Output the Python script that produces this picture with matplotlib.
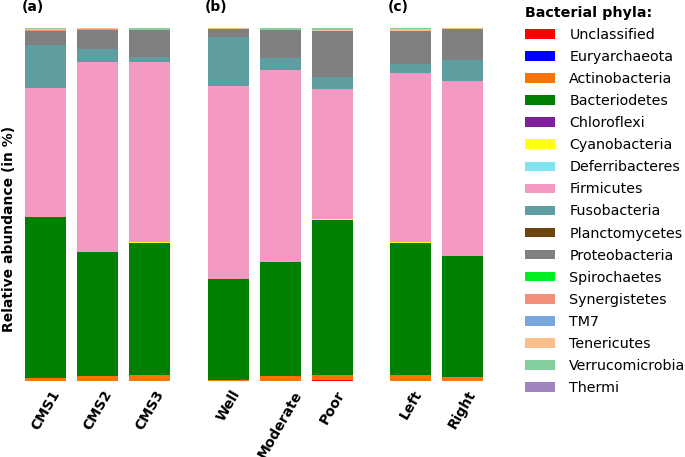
import matplotlib
matplotlib.use('Agg')
import numpy as np
import matplotlib.pyplot as plt
from matplotlib.patches import Patch

# samples, grouped by panel
panel_a = ['CMS1', 'CMS2', 'CMS3']
panel_b = ['Well', 'Moderate', 'Poor']
panel_c = ['Left', 'Right']
samples = panel_a + panel_b + panel_c

phyla = ['Unclassified', 'Euryarchaeota', 'Actinobacteria', 'Bacteriodetes', 'Chloroflexi',
         'Cyanobacteria', 'Deferribacteres', 'Firmicutes', 'Fusobacteria', 'Planctomycetes',
         'Proteobacteria', 'Spirochaetes', 'Synergistetes', 'TM7', 'Tenericutes',
         'Verrucomicrobia', 'Thermi']
colors = ['#ff0000', '#0000ff', '#f97306', '#008000', '#7e1e9c',
          '#ffff14', '#80e5ef', '#f49ac2', '#5f9ea0', '#6b4410',
          '#808080', '#00ee22', '#f4907a', '#7ba7dc', '#fbc08a',
          '#85cf9f', '#a085c0']

# relative abundance (%) per phylum, order: CMS1 CMS2 CMS3 Well Moderate Poor Left Right
unclassified    = [0.0, 0.0, 0.0, 0.0, 0.0, 0.15, 0.0, 0.0]
euryarchaeota   = [0.0, 0.0, 0.0, 0.0, 0.0, 0.0, 0.0, 0.0]
actinobacteria  = [0.8, 1.4, 1.7, 0.3, 1.4, 1.55, 1.7, 1.1]
bacteriodetes   = [45.6, 35.1, 37.4, 28.6, 32.3, 43.9, 37.4, 34.3]
chloroflexi     = [0.0, 0.0, 0.0, 0.0, 0.0, 0.0, 0.0, 0.0]
cyanobacteria   = [0.0, 0.0, 0.3, 0.0, 0.0, 0.3, 0.3, 0.0]
deferribacteres = [0.0, 0.0, 0.0, 0.0, 0.0, 0.0, 0.0, 0.0]
firmicutes      = [36.6, 53.8, 50.9, 54.6, 54.3, 36.8, 47.9, 49.5]
fusobacteria    = [12.2, 3.7, 1.5, 13.9, 3.4, 3.4, 2.5, 5.9]
planctomycetes  = [0.0, 0.0, 0.0, 0.0, 0.0, 0.0, 0.0, 0.0]
proteobacteria  = [4.0, 5.4, 7.6, 2.2, 7.9, 13.0, 9.3, 8.8]
spirochaetes    = [0.0, 0.0, 0.0, 0.0, 0.0, 0.0, 0.0, 0.0]
synergistetes   = [0.2, 0.3, 0.0, 0.0, 0.0, 0.0, 0.0, 0.0]
tm7             = [0.0, 0.0, 0.0, 0.0, 0.0, 0.0, 0.0, 0.0]
tenericutes     = [0.3, 0.3, 0.0, 0.4, 0.2, 0.3, 0.5, 0.4]
verrucomicrobia = [0.3, 0.0, 0.6, 0.0, 0.5, 0.6, 0.4, 0.0]
thermi          = [0.0, 0.0, 0.0, 0.0, 0.0, 0.0, 0.0, 0.0]

values = np.array([unclassified, euryarchaeota, actinobacteria, bacteriodetes, chloroflexi,
                   cyanobacteria, deferribacteres, firmicutes, fusobacteria, planctomycetes,
                   proteobacteria, spirochaetes, synergistetes, tm7, tenericutes,
                   verrucomicrobia, thermi])

fig = plt.figure(figsize=(6.85, 4.57), dpi=100)

bar_w = 0.79
unit = 52 / 685.0  # figure fraction per bar slot
bottom_f = 76 / 457.0
height_f = 353 / 457.0
panels = [(panel_a, 25, '(a)'), (panel_b, 208, '(b)'), (panel_c, 390, '(c)')]

start = 0
for names, left_px, tag in panels:
    n = len(names)
    width_f = (n - 1 + bar_w) * unit
    ax = fig.add_axes([left_px / 685.0, bottom_f, width_f, height_f])
    x = np.arange(n)
    sub = values[:, start:start + n]
    base = np.zeros(n)
    for vals, c in zip(sub, colors):
        ax.bar(x, vals, bar_w, bottom=base, color=c, linewidth=0)
        base += vals
    ax.set_xlim(-bar_w / 2, n - 1 + bar_w / 2)
    ax.set_ylim(0, 100)
    for s in ax.spines.values():
        s.set_visible(False)
    ax.set_yticks([])
    ax.set_xticks(x)
    ax.set_xticklabels(names, rotation=60, fontsize=10, fontweight='bold')
    ax.tick_params(axis='x', length=0, pad=5)
    ax.text(-0.02, 1.04, tag, transform=ax.transAxes, fontsize=10, fontweight='bold',
            ha='left', va='bottom')
    start += n

fig.text(0.013, 0.5, 'Relative abundance (in %)', rotation=90,
         fontsize=10, fontweight='bold', ha='center', va='center')

handles = [Patch(facecolor=c, edgecolor='none') for c in colors]
leg = fig.legend(handles, phyla, loc='upper left', bbox_to_anchor=(0.758, 1.0),
                 frameon=False, fontsize=10.3, title='Bacterial phyla:',
                 title_fontproperties={'weight': 'bold', 'size': 10.3},
                 handlelength=2.1, handleheight=0.65, handletextpad=1.0,
                 labelspacing=0.565, alignment='left', borderaxespad=0)

plt.savefig('out.png', dpi=100)
